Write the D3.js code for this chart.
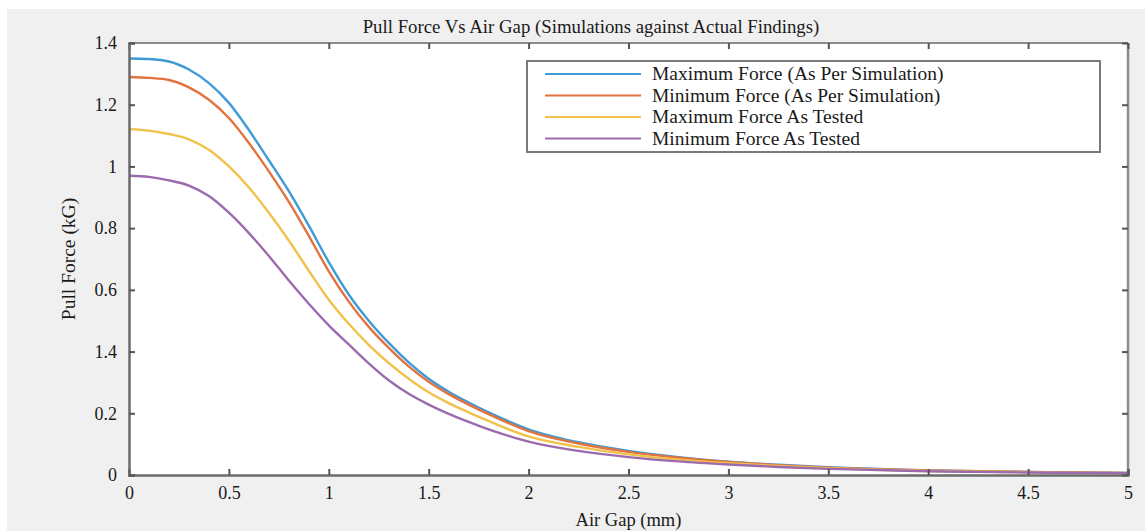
<!DOCTYPE html>
<html>
<head>
<meta charset="utf-8">
<script src="https://cdn.jsdelivr.net/npm/d3@7"></script>
<style>
  html, body { margin: 0; padding: 0; background: #ffffff; }
  svg { display: block; }
  text { font-family: "Liberation Serif", "Times New Roman", serif; fill: #1a1a1a; }
</style>
</head>
<body>
<svg id="chart" width="1145" height="531"></svg>
<script>
// ---- data ----
const airGap = [0,0.1,0.2,0.3,0.4,0.5,0.6,0.7,0.8,0.9,1.0,1.1,1.2,1.3,1.4,1.5,1.6,1.7,1.8,1.9,2.0,
                2.25,2.5,2.75,3.0,3.25,3.5,3.75,4.0,4.25,4.5,4.75,5.0];
const maxSim = [1.350,1.348,1.340,1.314,1.270,1.206,1.118,1.020,0.920,0.808,0.690,0.585,0.500,0.428,0.365,0.312,0.270,0.235,0.203,0.174,0.148,
                0.106,0.078,0.058,0.043,0.033,0.025,0.020,0.015,0.012,0.010,0.008,0.007];
const minSim = [1.290,1.287,1.280,1.256,1.216,1.157,1.076,0.984,0.885,0.775,0.660,0.562,0.480,0.412,0.352,0.302,0.262,0.228,0.197,0.168,0.142,
                0.102,0.075,0.056,0.042,0.032,0.024,0.019,0.015,0.012,0.010,0.008,0.007];
const maxTested = [1.121,1.116,1.105,1.088,1.054,1.000,0.932,0.850,0.760,0.662,0.568,0.490,0.422,0.363,0.312,0.268,0.233,0.203,0.175,0.148,0.125,
                   0.091,0.067,0.050,0.038,0.029,0.022,0.017,0.013,0.011,0.009,0.007,0.006];
const minTested = [0.970,0.966,0.955,0.938,0.904,0.850,0.784,0.710,0.630,0.555,0.485,0.423,0.362,0.307,0.263,0.228,0.198,0.172,0.148,0.127,0.108,
                   0.078,0.058,0.044,0.034,0.026,0.020,0.016,0.012,0.010,0.008,0.007,0.006];
const seriesNames = ["Maximum Force (As Per Simulation)", "Minimum Force (As Per Simulation)",
                     "Maximum Force As Tested", "Minimum Force As Tested"];
const seriesColors = ["#3f9bd7", "#e2733f", "#f1c24a", "#9b6aaf"];
const xTicks = [0,0.5,1,1.5,2,2.5,3,3.5,4,4.5,5];
const xTickLabels = ["0","0.5","1","1.5","2","2.5","3","3.5","4","4.5","5"];
const yTicks = [0,0.2,0.4,0.6,0.8,1.0,1.2,1.4];
const yTickLabels = ["0","0.2","1.4","0.6","0.8","1","1.2","1.4"];
const titleText = "Pull Force Vs Air Gap (Simulations against Actual Findings)";
const xLabelText = "Air Gap (mm)";
const yLabelText = "Pull Force (kG)";

// ---- layout ----
const svg = d3.select("#chart");
const W = 1145, H = 531;
const plot = { left: 129, right: 1128, top: 43, bottom: 475 };
const FONT = "Liberation Serif";

svg.append("rect").attr("x", 7).attr("y", 9).attr("width", W - 7).attr("height", H - 9).attr("fill", "#f0f0f0");
svg.append("rect").attr("x", plot.left).attr("y", plot.top)
   .attr("width", plot.right - plot.left).attr("height", plot.bottom - plot.top).attr("fill", "#ffffff");

const x = d3.scaleLinear().domain([0, 5]).range([plot.left, plot.right]);
const y = d3.scaleLinear().domain([0, 1.4]).range([plot.bottom, plot.top]);

// series lines
const allSeries = [maxSim, minSim, maxTested, minTested];
const line = d3.line().x((d, i) => x(airGap[i])).y(d => y(d)).curve(d3.curveMonotoneX);
svg.append("clipPath").attr("id", "clip").append("rect")
   .attr("x", plot.left).attr("y", plot.top - 2).attr("width", plot.right - plot.left).attr("height", plot.bottom - plot.top + 2);
const gLines = svg.append("g").attr("clip-path", "url(#clip)");
allSeries.forEach((s, k) => {
  gLines.append("path").datum(s).attr("d", line).attr("fill", "none")
    .attr("stroke", seriesColors[k]).attr("stroke-width", 2.4).attr("stroke-linejoin", "round");
});

// axes frame
svg.append("line").attr("x1", plot.left).attr("x2", plot.right).attr("y1", plot.top).attr("y2", plot.top)
   .attr("stroke", "#8c8c8c").attr("stroke-width", 2);
svg.append("line").attr("x1", plot.right).attr("x2", plot.right).attr("y1", plot.top).attr("y2", plot.bottom)
   .attr("stroke", "#8c8c8c").attr("stroke-width", 2.5);

// x axis (bottom) with inward ticks
const xAxis = d3.axisBottom(x).tickValues(xTicks).tickSize(-6).tickPadding(11)
  .tickFormat((d, i) => xTickLabels[i]);
const gx = svg.append("g").attr("transform", `translate(0,${plot.bottom})`).call(xAxis);
gx.select(".domain").attr("stroke", "#6a6a6a").attr("stroke-width", 2.5);
gx.selectAll(".tick line").attr("stroke", "#555").attr("stroke-width", 2);
gx.selectAll(".tick text").attr("font-size", 18).attr("font-family", FONT).attr("fill", "#1a1a1a");

// top ticks
const xTop = d3.axisTop(x).tickValues(xTicks).tickSize(-6).tickFormat("");
const gxt = svg.append("g").attr("transform", `translate(0,${plot.top})`).call(xTop);
gxt.select(".domain").remove();
gxt.selectAll(".tick line").attr("stroke", "#555").attr("stroke-width", 2);

// y axis (left) with inward ticks
const yAxis = d3.axisLeft(y).tickValues(yTicks).tickSize(-6).tickPadding(12)
  .tickFormat((d, i) => yTickLabels[i]);
const gy = svg.append("g").attr("transform", `translate(${plot.left},0)`).call(yAxis);
gy.select(".domain").attr("stroke", "#6a6a6a").attr("stroke-width", 2.5);
gy.selectAll(".tick line").attr("stroke", "#555").attr("stroke-width", 2);
gy.selectAll(".tick text").attr("font-size", 18).attr("font-family", FONT).attr("fill", "#1a1a1a");

// right ticks
const yRight = d3.axisRight(y).tickValues(yTicks).tickSize(-6).tickFormat("");
const gyr = svg.append("g").attr("transform", `translate(${plot.right},0)`).call(yRight);
gyr.select(".domain").remove();
gyr.selectAll(".tick line").attr("stroke", "#555").attr("stroke-width", 2);

// titles
svg.append("text").attr("x", 591).attr("y", 33).attr("text-anchor", "middle")
   .attr("font-size", 18.8).text(titleText);
svg.append("text").attr("x", (plot.left + plot.right) / 2).attr("y", 526).attr("text-anchor", "middle")
   .attr("font-size", 18.5).text(xLabelText);
svg.append("text").attr("transform", `translate(75,${(plot.top + plot.bottom) / 2}) rotate(-90)`)
   .attr("text-anchor", "middle").attr("font-size", 19.5).text(yLabelText);

// legend
const lg = svg.append("g");
lg.append("rect").attr("x", 527).attr("y", 61).attr("width", 573).attr("height", 91)
  .attr("fill", "#ffffff").attr("stroke", "#7a7a7a").attr("stroke-width", 2);
seriesNames.forEach((name, k) => {
  const cy = 74 + k * 21.5;
  lg.append("line").attr("x1", 545).attr("x2", 641).attr("y1", cy).attr("y2", cy)
    .attr("stroke", seriesColors[k]).attr("stroke-width", 2);
  lg.append("text").attr("x", 652).attr("y", cy + 6).attr("font-size", 19.5).text(name);
});
</script>
</body>
</html>
